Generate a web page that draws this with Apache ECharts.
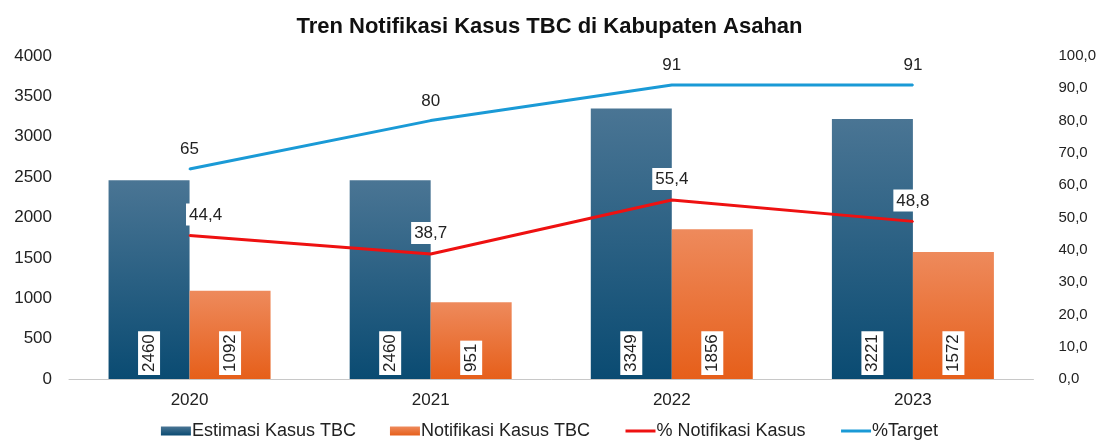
<!DOCTYPE html>
<html><head><meta charset="utf-8">
<script src="https://cdn.jsdelivr.net/npm/echarts@6/dist/echarts.min.js"></script>
<style>html,body{margin:0;padding:0;background:#fff}#c{width:1099px;height:446px}</style>
</head><body><div id="c"></div>
<script>
const categories = ['2020', '2021', '2022', '2023'];
const estimasi = [2460, 2460, 3349, 3221];
const notifikasi = [1092, 951, 1856, 1572];
const pctNotifikasi = [44.4, 38.7, 55.4, 48.8];
const pctTarget = [65, 80, 91, 91];

const fmtComma = (v, d) => v.toFixed(d).replace('.', ',');
const font = 'Liberation Sans, Arial, sans-serif';
const notifLabelOffsets = [[16, 0], [0, 0], [0, 0], [0, 0]];

const chart = echarts.init(document.getElementById('c'));
const barLabel = {
  show: true, position: 'insideBottom', rotate: 90, align: 'left', verticalAlign: 'middle',
  distance: 4, color: '#222', fontSize: 17, fontFamily: font,
  backgroundColor: '#fff', padding: [3, 3, 2, 3]
};
chart.setOption({
  animation: false,
  title: { text: 'Tren Notifikasi Kasus TBC di Kabupaten Asahan', left: 'center', top: 11,
    textStyle: { fontSize: 22, fontWeight: 'bold', color: '#111', fontFamily: font } },
  grid: { left: 69, right: 62, top: 56, bottom: 67 },
  legend: {
    bottom: 1, left: 'center', itemGap: 34, itemWidth: 30, itemHeight: 9,
    textStyle: { fontSize: 18, color: '#222', fontFamily: font, padding: [0, 0, 0, -4] },
    data: [
      { name: 'Estimasi Kasus TBC', icon: 'rect' },
      { name: 'Notifikasi Kasus TBC', icon: 'rect' },
      { name: '% Notifikasi Kasus', itemStyle: { opacity: 0 }, lineStyle: { width: 3 } },
      { name: '%Target', itemStyle: { opacity: 0 }, lineStyle: { width: 3 } }
    ]
  },
  xAxis: {
    type: 'category', data: categories,
    axisLine: { lineStyle: { color: '#c8c8c8' } }, axisTick: { show: false },
    axisLabel: { fontSize: 17, color: '#222', fontFamily: font, margin: 13 }
  },
  yAxis: [
    { type: 'value', min: 0, max: 4000, interval: 500, splitLine: { show: false },
      axisLine: { show: false }, axisTick: { show: false },
      axisLabel: { fontSize: 17, color: '#222', fontFamily: font, margin: 17,
        formatter: v => String(v) } },
    { type: 'value', min: 0, max: 100, interval: 10, splitLine: { show: false },
      axisLine: { show: false }, axisTick: { show: false },
      axisLabel: { fontSize: 15, color: '#222', fontFamily: font, margin: 25,
        formatter: v => fmtComma(v, 1) } }
  ],
  series: [
    { name: 'Estimasi Kasus TBC', type: 'bar', data: estimasi, barWidth: 81, barGap: '0%',
      itemStyle: { color: new echarts.graphic.LinearGradient(0, 0, 0, 1, [
        { offset: 0, color: '#4a7594' }, { offset: 1, color: '#0a4b72' }]) },
      label: barLabel },
    { name: 'Notifikasi Kasus TBC', type: 'bar', data: notifikasi, barWidth: 81, barGap: '0%',
      itemStyle: { color: new echarts.graphic.LinearGradient(0, 0, 0, 1, [
        { offset: 0, color: '#ee8a5c' }, { offset: 1, color: '#e65f1a' }]) },
      label: barLabel },
    { name: '% Notifikasi Kasus', type: 'line', yAxisIndex: 1,
      data: pctNotifikasi.map((v, i) => ({ value: v, label: { offset: notifLabelOffsets[i] } })),
      symbol: 'circle', symbolSize: 2, lineStyle: { color: '#ee1111', width: 3 }, itemStyle: { color: '#ee1111' },
      label: { show: true, position: 'top', distance: 9, color: '#222', fontSize: 17, fontFamily: font,
        backgroundColor: '#fff', padding: [3, 3, 2, 3], formatter: p => fmtComma(p.value, 1) } },
    { name: '%Target', type: 'line', yAxisIndex: 1, data: pctTarget,
      symbol: 'circle', symbolSize: 2, lineStyle: { color: '#1a9ad6', width: 3 }, itemStyle: { color: '#1a9ad6' },
      label: { show: true, position: 'top', distance: 10, color: '#222', fontSize: 17, fontFamily: font } }
  ]
});
</script></body></html>
